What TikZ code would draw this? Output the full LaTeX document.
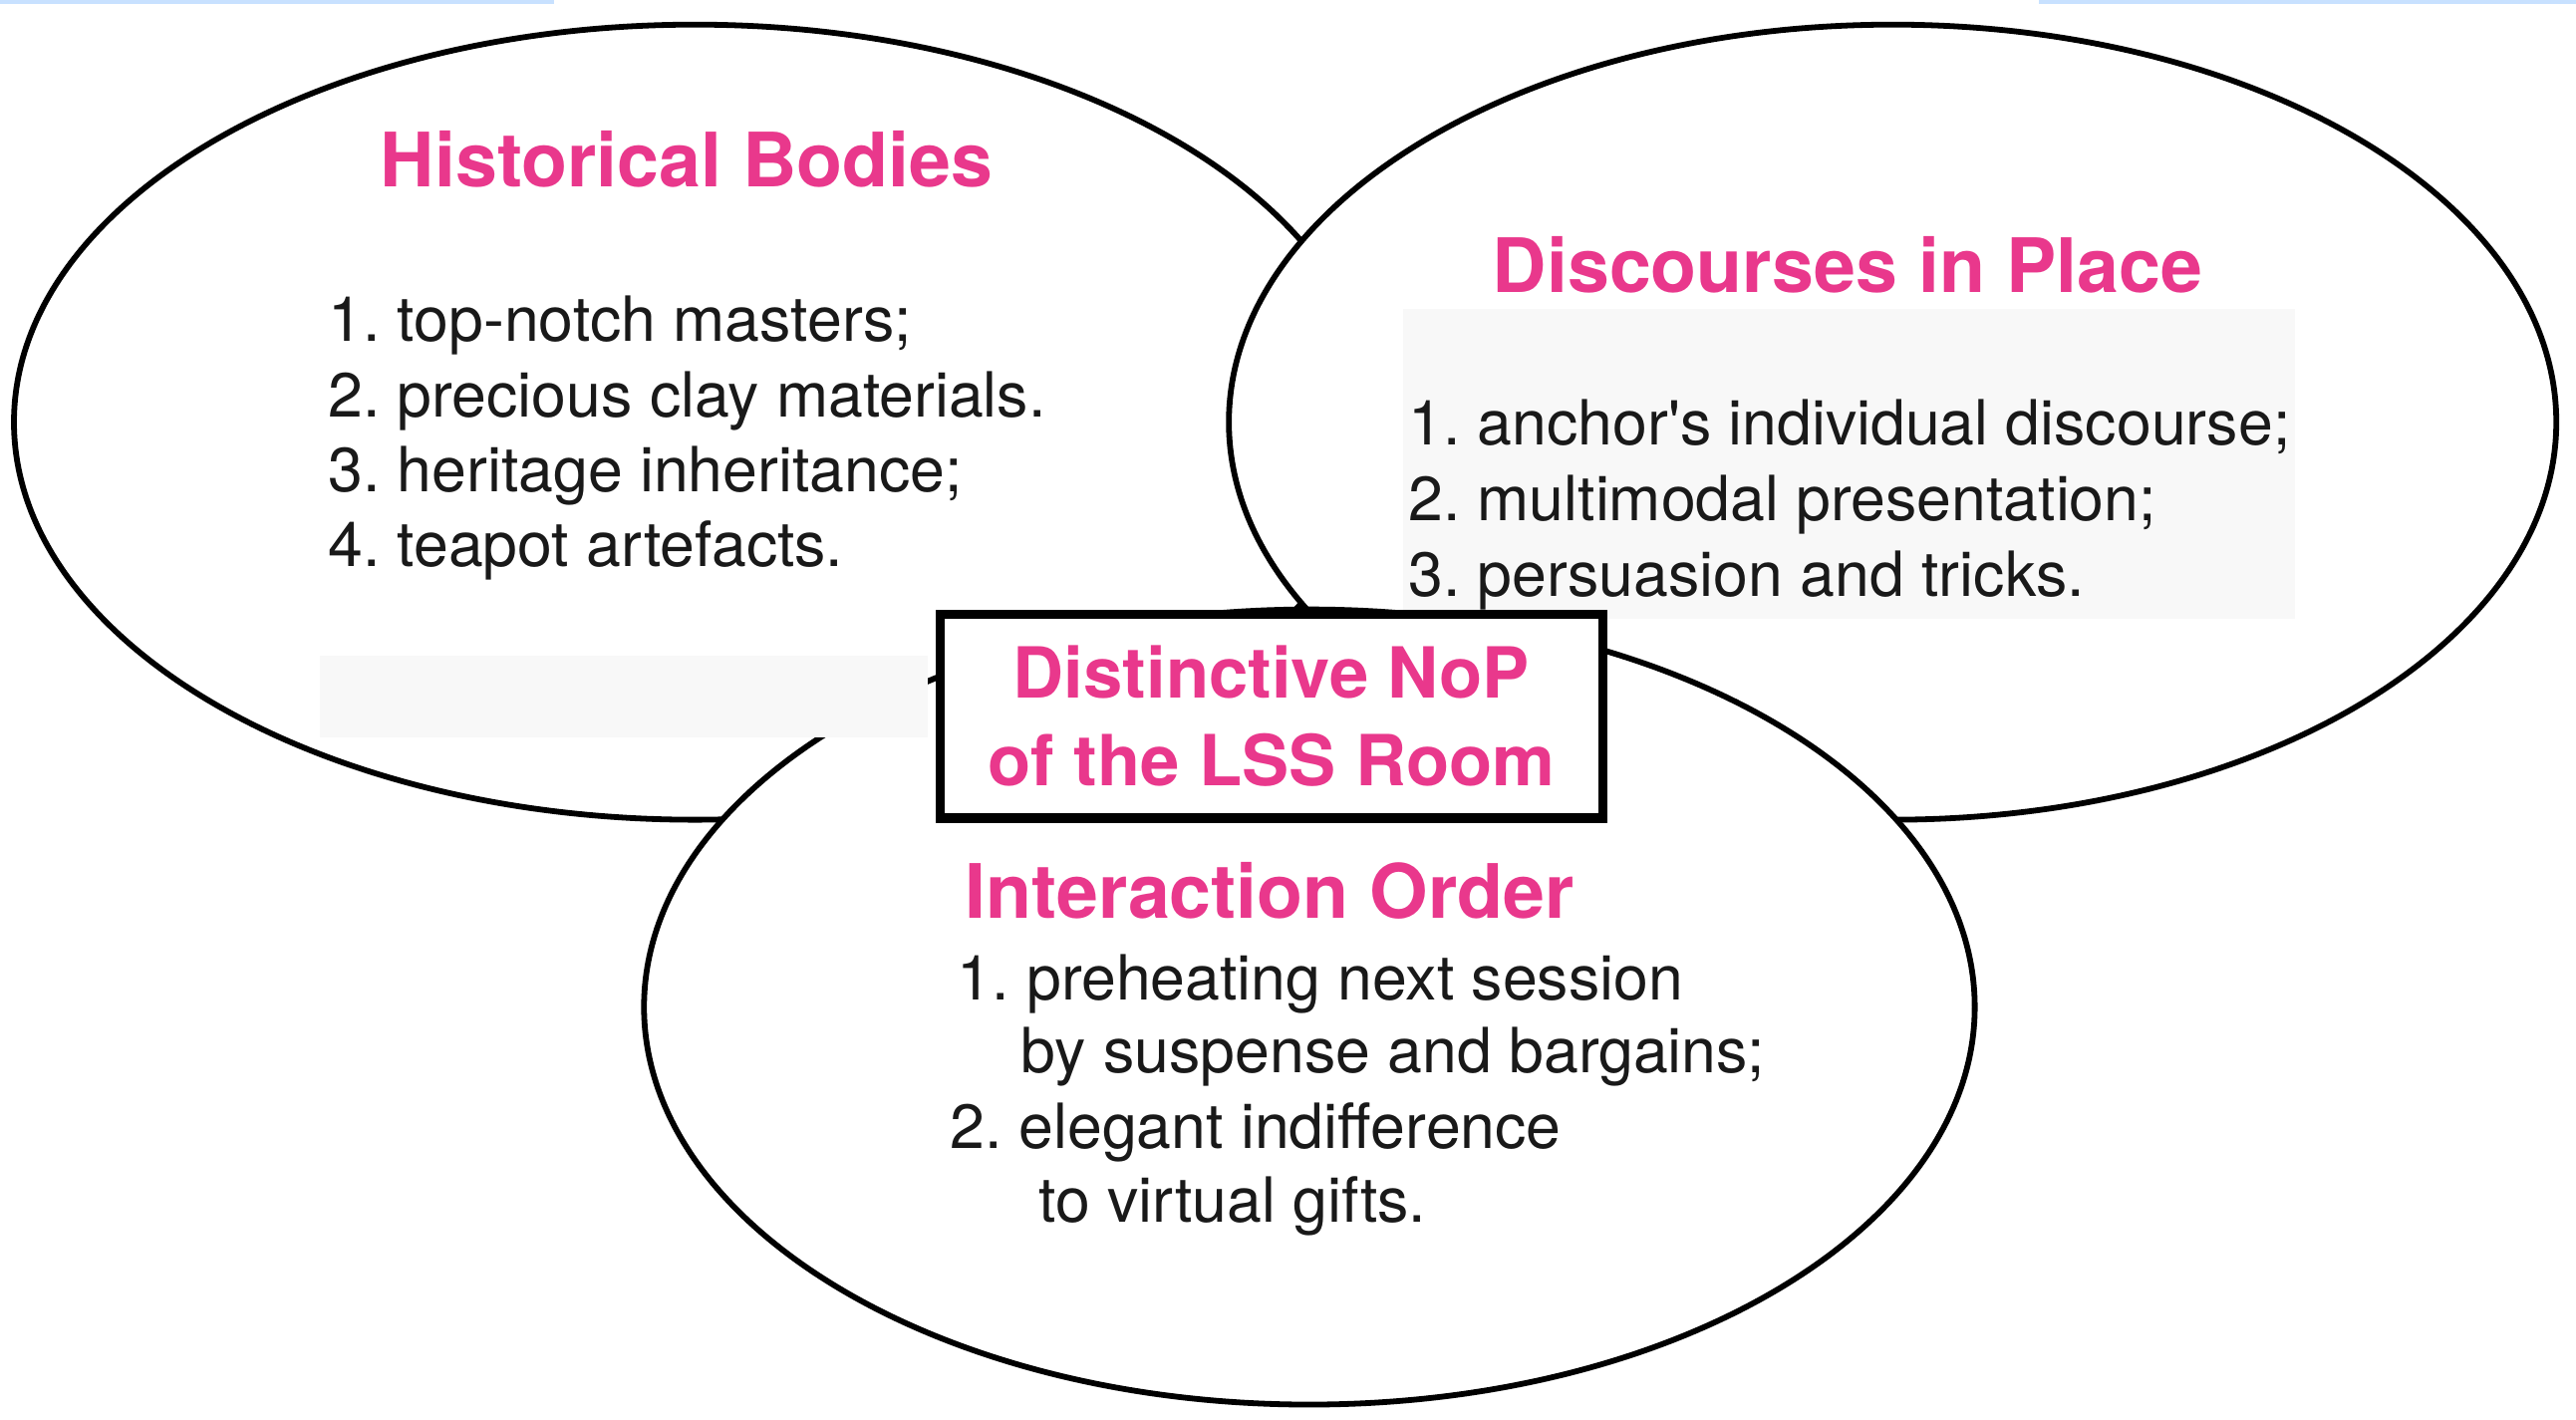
\documentclass[tikz,border=0pt]{standalone}
\usepackage{fontspec}
\setmainfont{TeX Gyre Heros}
\usepackage{tikz}
\usetikzlibrary{shapes.geometric}
\frenchspacing

\definecolor{nopPink}{RGB}{233,56,140}
\definecolor{stripBlue}{RGB}{200,225,255}
\definecolor{bandGray}{RGB}{248,248,248}

\tikzset{
	circ/.style={ellipse, draw, fill=white, line width=1pt, inner sep=0pt},
	head/.style={text=nopPink, font=\fontsize{13}{15}\selectfont\bfseries, anchor=base, inner sep=0pt},
	item/.style={text=black!90, font=\fontsize{10.8}{13}\selectfont, anchor=base west, inner sep=0pt},
}

\begin{document}
\begin{tikzpicture}
	\useasboundingbox (0,0) rectangle (15.68,8.64);
	\fill[stripBlue] (0,8.616) rectangle (3.37,8.64);
	\fill[stripBlue] (12.41,8.616) rectangle (15.68,8.64);
	\node (hist) at (4.23,6.07) [circ, minimum width=8.29cm, minimum height=4.84cm] {};
	\node (disc) at (11.52,6.07) [circ, minimum width=8.08cm, minimum height=4.84cm] {};
	\fill[bandGray] (8.54,6.76) rectangle (13.97,4.87);
	\node (inter) at (7.97,2.51) [circ, minimum width=8.10cm, minimum height=4.84cm] {};
	\fill[bandGray] (1.95,4.65) rectangle (5.65,4.15);
	\node (nop) at (7.74,4.28) [draw, fill=white, line width=1.6pt, minimum width=4.03cm, minimum height=1.24cm, align=center, text=nopPink, font=\fontsize{12.2}{15.2}\selectfont\bfseries] {Distinctive NoP\\of the LSS Room};
		\node (histT) at (4.18,7.50) [head] {Historical Bodies};
		\node (h1) at (1.99,6.56) [item] {1. top-notch masters;};
		\node (h2) at (1.99,6.103) [item] {2. precious clay materials.};
		\node (h3) at (1.99,5.646) [item] {3. heritage inheritance;};
		\node (h4) at (1.99,5.19) [item] {4. teapot artefacts.};
		\node (discT) at (11.245,6.86) [head] {Discourses in Place};
		\node (d1) at (8.565,5.93) [item] {1. anchor\textquotesingle s individual discourse;};
		\node (d2) at (8.565,5.47) [item] {2. multimodal presentation;};
		\node (d3) at (8.565,5.01) [item] {3. persuasion and tricks.};
		\node (interT) at (7.73,3.05) [head] {Interaction Order};
		\node (i1) at (5.82,2.554) [item] {1. preheating next session};
		\node (i2) at (6.21,2.11) [item] {by suspense and bargains;};
		\node (i3) at (5.775,1.65) [item] {2. elegant indifference};
		\node (i4) at (6.315,1.20) [item] {to virtual gifts.};
\end{tikzpicture}
\end{document}
